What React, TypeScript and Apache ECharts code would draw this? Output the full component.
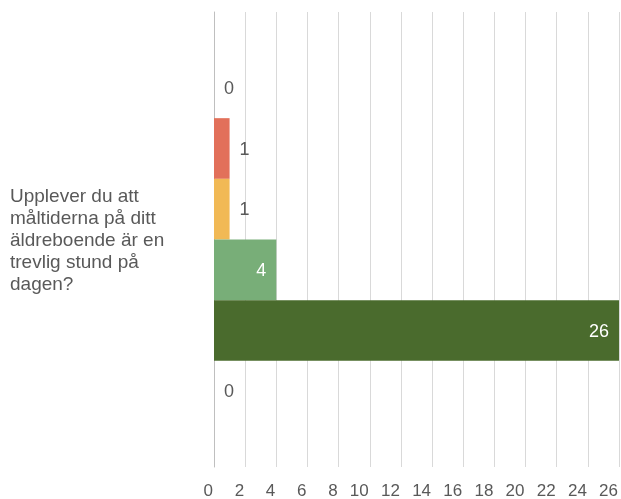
import React, { useEffect, useRef } from "react";
import * as echarts from "echarts";

const categoryLines = [
  "Upplever du att",
  "måltiderna på ditt",
  "äldreboende är en",
  "trevlig stund på",
  "dagen?",
];
const categories = [categoryLines.join("\n")];
const seriesNames = ["Vet ej", "Aldrig", "Sällan", "Ibland", "Alltid", "Ej svar"];
const seriesValues = [0, 1, 1, 4, 26, 0];
const seriesColors = ["#e2705a", "#e2705a", "#f1b955", "#78ae78", "#4a6b2d", "#4a6b2d"];
const labelInside = [false, false, false, true, true, false];
const xMax = 26;
const xInterval = 2;

export default function App() {
  const ref = useRef<HTMLDivElement>(null);
  useEffect(() => {
    if (!ref.current) return;
    const chart = echarts.init(ref.current, null, { renderer: "svg" });
    const font = "'Liberation Sans', Arial, sans-serif";
    chart.setOption({
      animation: false,
      grid: { left: 214, right: 0, top: 12, bottom: 30, containLabel: false },
      xAxis: {
        type: "value",
        min: 0,
        max: xMax,
        interval: xInterval,
        axisLine: { show: false },
        axisTick: { show: false },
        splitLine: { lineStyle: { color: "#d9d9d9", width: 1 } },
        axisLabel: {
          color: "#595959",
          fontSize: 17,
          fontFamily: font,
          margin: 15,
          align: "right",
          padding: [0, 1, 0, 0],
        },
      },
      yAxis: {
        type: "category",
        data: categories,
        inverse: true,
        axisLine: { show: true, lineStyle: { color: "#bfbfbf", width: 1 } },
        axisTick: { show: false },
        axisLabel: {
          align: "left",
          margin: 204,
          color: "#595959",
          fontSize: 19,
          lineHeight: 22,
          fontFamily: font,
        },
      },
      series: seriesValues.map((v, i) => ({
        type: "bar",
        name: seriesNames[i],
        data: [v],
        barGap: "0%",
        barCategoryGap: "20%",
        itemStyle: { color: seriesColors[i] },
        label: {
          show: true,
          position: labelInside[i] ? "insideRight" : "right",
          distance: 10,
          color: labelInside[i] ? "#ffffff" : "#595959",
          fontSize: 18,
          fontFamily: font,
        },
      })),
    });
    return () => chart.dispose();
  }, []);
  return (
    <div
      ref={ref}
      style={{ position: "fixed", left: 0, top: 0, width: 621, height: 499 }}
    />
  );
}
